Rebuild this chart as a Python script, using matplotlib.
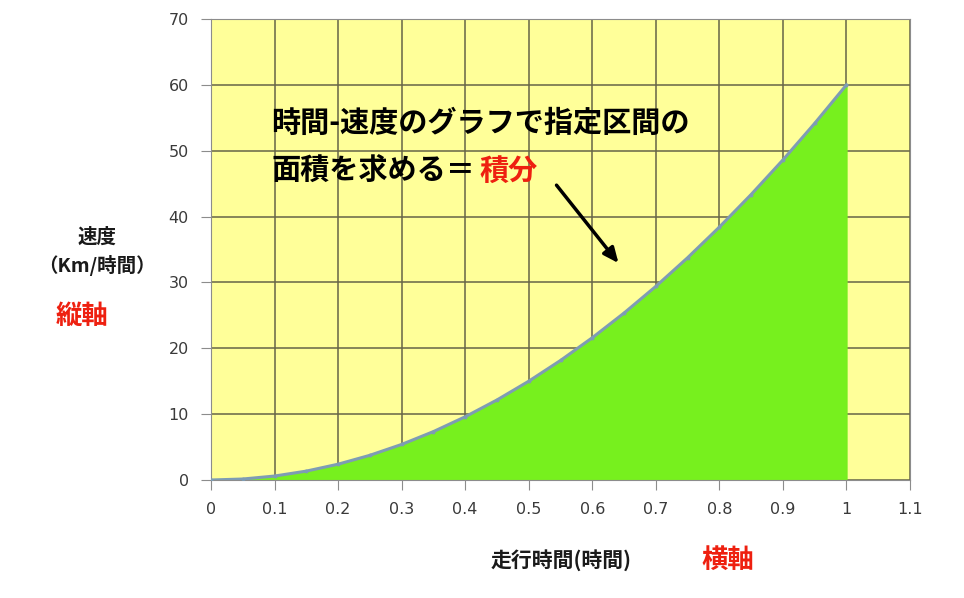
import matplotlib
matplotlib.use('Agg')
from matplotlib import pyplot as plt
import numpy as np

plt.rcParams['font.family'] = ['Noto Sans CJK JP', 'DejaVu Sans']

# data (smooth curve, points every 0.05 h)
time_h = [0, 0.05, 0.1, 0.15, 0.2, 0.25, 0.3, 0.35, 0.4, 0.45, 0.5,
          0.55, 0.6, 0.65, 0.7, 0.75, 0.8, 0.85, 0.9, 0.95, 1.0]
speed = [0, 0.15, 0.6, 1.35, 2.4, 3.75, 5.4, 7.35, 9.6, 12.15, 15.0,
         18.15, 21.6, 25.35, 29.4, 33.75, 38.4, 43.35, 48.6, 54.15, 60.0]
x_ticks = [0, 0.1, 0.2, 0.3, 0.4, 0.5, 0.6, 0.7, 0.8, 0.9, 1, 1.1]
x_tick_labels = ['0', '0.1', '0.2', '0.3', '0.4', '0.5', '0.6', '0.7', '0.8', '0.9', '1', '1.1']
y_ticks = [0, 10, 20, 30, 40, 50, 60, 70]

fig = plt.figure(figsize=(9.64, 5.98), dpi=100)
ax = fig.add_axes([211 / 964, 1 - 480 / 598, 699 / 964, 461 / 598])

ax.set_facecolor('#ffff99')
ax.fill_between(time_h, speed, 0, color='#77f01e', zorder=2)
ax.plot(time_h, speed, color='#7e9cb4', lw=2.2, marker='o', ms=1.8, zorder=3)

ax.set_xlim(0, 1.1)
ax.set_ylim(0, 70)
ax.set_xticks(x_ticks)
ax.set_xticklabels(x_tick_labels, family='DejaVu Sans')
ax.set_yticks(y_ticks)
ax.set_yticklabels([str(v) for v in y_ticks], family='DejaVu Sans')
ax.grid(True, color='#666548', lw=1.1, zorder=1)
ax.set_axisbelow(True)
for s in ax.spines.values():
    s.set_color('#8c8c8c')
ax.tick_params(colors='#8c8c8c', labelcolor='#3a3a3a', labelsize=11.5, length=7, pad=9)

# annotation
ax.text(0.095, 54.2, '時間-速度のグラフで指定区間の', fontsize=21, fontweight='bold',
        color='black', va='center', zorder=5)
t = ax.text(0.095, 46.9, '面積を求める＝', fontsize=21, fontweight='bold',
            color='black', va='center', zorder=5)
ax.annotate('積分', xy=(1, 0.5), xycoords=t, xytext=(3, 0), textcoords='offset points',
            fontsize=21, fontweight='bold', color='#ee2010', va='center', zorder=5)
ax.annotate('', xy=(0.644, 32.6), xytext=(0.541, 45.1),
            arrowprops=dict(arrowstyle='-|>,head_length=0.9,head_width=0.4',
                            color='black', lw=2.5), zorder=5)

# axis labels
fig.text(97 / 964, 1 - 237 / 598, '速度', fontsize=14, fontweight='bold',
         ha='center', va='center', color='#1a1a1a')
fig.text(97 / 964, 1 - 265 / 598, '（Km/時間）', fontsize=14, fontweight='bold',
         ha='center', va='center', color='#1a1a1a')
fig.text(82 / 964, 1 - 316 / 598, '縦軸', fontsize=19, fontweight='bold',
         ha='center', va='center', color='#ee2010')
fig.text(561 / 964, 1 - 560 / 598, '走行時間(時間)', fontsize=15, fontweight='bold',
         ha='center', va='center', color='#1a1a1a')
fig.text(728 / 964, 1 - 560 / 598, '横軸', fontsize=19, fontweight='bold',
         ha='center', va='center', color='#ee2010')

fig.savefig('out.png', dpi=100)
